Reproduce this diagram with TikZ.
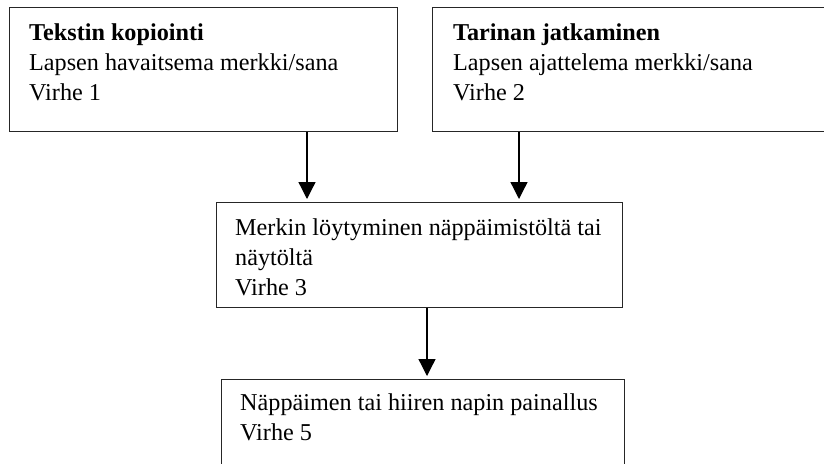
\documentclass[tikz,border=0pt]{standalone}
\usepackage{fontspec}
\setmainfont{Liberation Serif}
\usetikzlibrary{arrows.meta,calc}
\begin{document}
\begin{tikzpicture}[x=1pt,y=-1pt,
  box/.style={draw=black!85, line width=1.3pt, rectangle, inner sep=0pt, anchor=north west, fill=white},
  txt/.style={anchor=base west, inner sep=0pt, align=left, font=\fontsize{24.2}{30}\selectfont},
  arr/.style={draw=black, line width=1.3pt, -{Triangle[width=17pt,length=17pt]}}]
\useasboundingbox (0,0) rectangle (824,463);
\clip (0,0) rectangle (824,463);
\fill[white] (0,0) rectangle (824,463);
\node[box, minimum width=388pt, minimum height=124pt] (b1) at (9,7) {};
\node[box, minimum width=410pt, minimum height=124pt] (b2) at (432,7) {};
\node[box, minimum width=406pt, minimum height=105pt] (b3) at (216,202) {};
\node[box, minimum width=403pt, minimum height=100pt] (b4) at (221,379) {};
\node[txt] (t1) at (29,100) {\textbf{Tekstin kopiointi}\\Lapsen havaitsema merkki/sana\\Virhe 1};
\node[txt] (t2) at (453,100) {\textbf{Tarinan jatkaminen}\\Lapsen ajattelema merkki/sana\\Virhe 2};
\node[txt] (t3) at (235,295) {Merkin löytyminen näppäimistöltä tai\\näytöltä\\Virhe 3};
\node[txt] (t4) at (240,440) {Näppäimen tai hiiren napin painallus\\Virhe 5};
\coordinate (x1) at (307,0);
\coordinate (x2) at (519,0);
\coordinate (x3) at (427,0);
\draw[arr] (x1 |- b1.south) -- ($(x1 |- b3.north)+(0,-3)$);
\draw[arr] (x2 |- b2.south) -- ($(x2 |- b3.north)+(0,-3)$);
\draw[arr] (x3 |- b3.south) -- ($(x3 |- b4.north)+(0,-3)$);
\end{tikzpicture}
\end{document}
